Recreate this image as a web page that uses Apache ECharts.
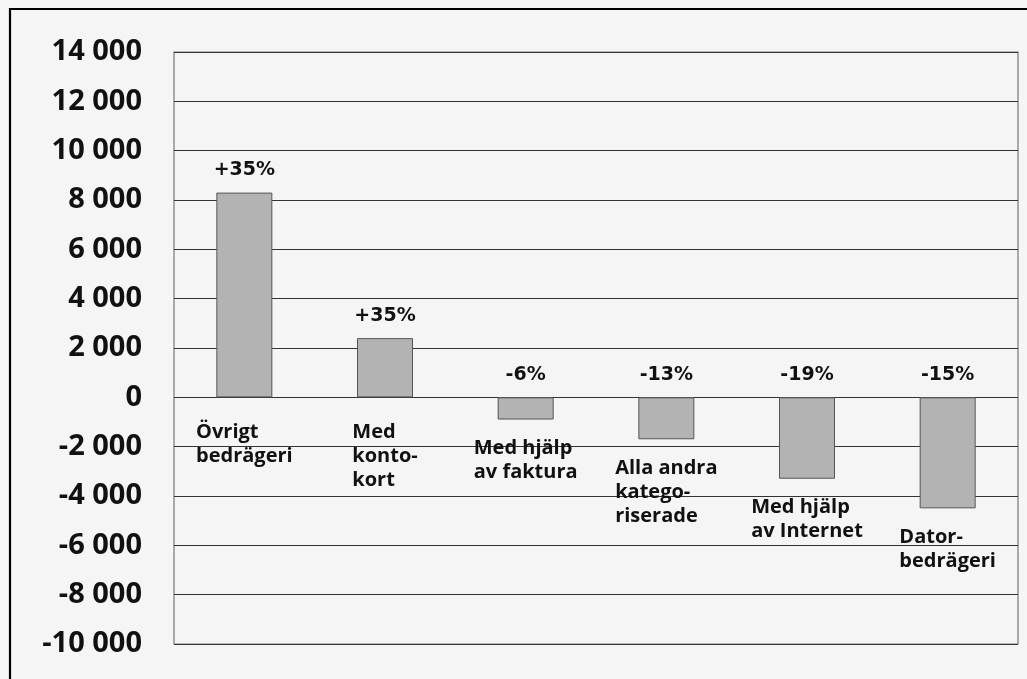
<!DOCTYPE html>
<html>
<head>
<meta charset="utf-8">
<script src="https://cdn.jsdelivr.net/npm/echarts@6/dist/echarts.min.js"></script>
<style>
html,body{margin:0;padding:0;background:#f5f5f5;}
#main{width:1027px;height:679px;}
</style>
</head>
<body>
<div id="main"></div>
<script>
const categories = [
  'Övrigt\nbedrägeri',
  'Med\nkonto-\nkort',
  'Med hjälp\nav faktura',
  'Alla andra\nkatego-\nriserade',
  'Med hjälp\nav Internet',
  'Dator-\nbedrägeri'
];
const values = [8300, 2400, -900, -1700, -3300, -4500];
const changeLabels = ['+35%', '+35%', '-6%', '-13%', '-19%', '-15%'];
const yMin = -10000, yMax = 14000, yStep = 2000;

const catFont = 'bold 20px "Open Sans"';
const ctx = document.createElement('canvas').getContext('2d');
ctx.font = catFont;
function blockWidth(s) {
  return Math.max(...s.split('\n').map(l => ctx.measureText(l).width));
}
function fmt(v) {
  const a = Math.abs(v).toString().replace(/\B(?=(\d{3})+(?!\d))/g, ' ');
  return (v < 0 ? '-' : '') + a;
}

const chart = echarts.init(document.getElementById('main'));
chart.setOption({
  backgroundColor: '#f5f5f5',
  animation: false,
  grid: {left: 174, right: 9, top: 52, bottom: 35, show: true, borderColor: '#777', borderWidth: 1.2, backgroundColor: 'transparent'},
  graphic: [{
    type: 'rect', shape: {x: 10, y: 9, width: 1040, height: 700},
    style: {fill: 'none', stroke: '#000', lineWidth: 2.2}, silent: true
  }],
  xAxis: {
    type: 'category', data: categories,
    axisLine: {show: false}, axisTick: {show: false}, axisLabel: {show: false}, splitLine: {show: false}
  },
  yAxis: {
    type: 'value', min: yMin, max: yMax, interval: yStep,
    axisLine: {show: false}, axisTick: {show: false},
    axisLabel: {formatter: fmt, margin: 32, color: '#111', fontFamily: 'Open Sans', fontWeight: 'bold', fontSize: 29},
    splitLine: {lineStyle: {color: '#333', width: 1}}
  },
  series: [{
    type: 'bar', data: values, barWidth: 56, barGap: '-100%', z: 3,
    itemStyle: {color: '#b3b3b3', borderColor: '#555', borderWidth: 1},
    label: {
      show: true, position: 'top', distance: 13,
      formatter: p => changeLabels[p.dataIndex],
      fontFamily: 'DejaVu Sans', fontWeight: 'bold', fontSize: 19, color: '#111'
    }
  }, {
    type: 'bar', barWidth: 56, barGap: '-100%', z: 2,
    itemStyle: {color: 'transparent', borderWidth: 0},
    data: values.map((v, i) => ({
      value: Math.min(v, 0),
      label: {distance: v > 0 ? 23 : 17, offset: [-blockWidth(categories[i]) / 2, 0]}
    })),
    label: {
      show: true, position: 'bottom', align: 'left', verticalAlign: 'top',
      formatter: p => categories[p.dataIndex],
      fontFamily: 'Open Sans', fontWeight: 'bold', fontSize: 20, lineHeight: 24, color: '#111'
    }
  }]
});
</script>
</body>
</html>
